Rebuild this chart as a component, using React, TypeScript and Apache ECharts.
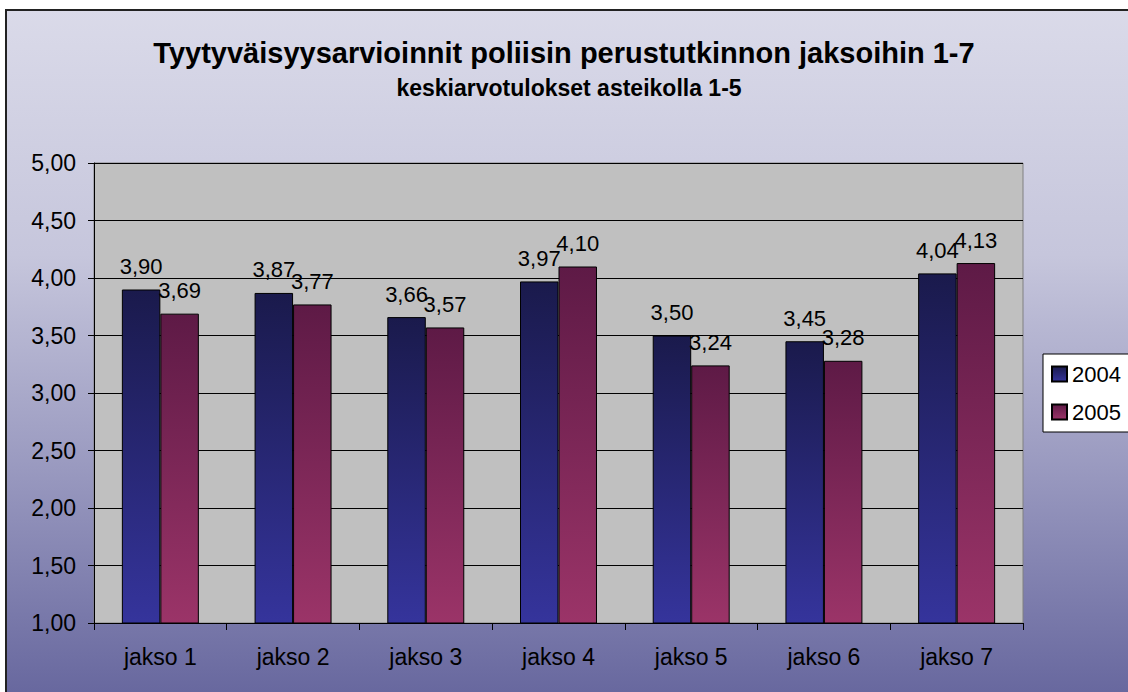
import React, { useEffect, useRef } from "react";
import * as echarts from "echarts";

const categories = ["jakso 1", "jakso 2", "jakso 3", "jakso 4", "jakso 5", "jakso 6", "jakso 7"];
const values2004 = [3.9, 3.87, 3.66, 3.97, 3.5, 3.45, 4.04];
const values2005 = [3.69, 3.77, 3.57, 4.1, 3.24, 3.28, 4.13];
const seriesNames = ["2004", "2005"];
const titleText = "Tyytyväisyysarvioinnit poliisin perustutkinnon jaksoihin 1-7";
const subtitleText = "keskiarvotulokset asteikolla 1-5";

const FONT = "'Liberation Sans', Arial, sans-serif";
const fmt = (v: number) => v.toFixed(2).replace(".", ",");

export default function App() {
  const ref = useRef<HTMLDivElement>(null);
  useEffect(() => {
    document.body.style.margin = "0";
    const chart = echarts.init(ref.current!, undefined, { renderer: "svg" });
    const grad2004 = new echarts.graphic.LinearGradient(0, 0, 0, 1, [
      { offset: 0, color: "#1a1a4c" },
      { offset: 1, color: "#35349c" },
    ]);
    const grad2005 = new echarts.graphic.LinearGradient(0, 0, 0, 1, [
      { offset: 0, color: "#5e1a46" },
      { offset: 1, color: "#9b3468" },
    ]);
    const bg = new echarts.graphic.LinearGradient(0, 0, 0, 1, [
      { offset: 0, color: "#dadae9" },
      { offset: 0.35, color: "#c6c6dc" },
      { offset: 0.65, color: "#9a9ac0" },
      { offset: 1, color: "#64649c" },
    ]);
    const labelCfg = {
      show: true,
      position: "top",
      distance: 12,
      fontFamily: FONT,
      fontSize: 22,
      color: "#000",
      formatter: (p: any) => fmt(p.value),
    };
    chart.setOption({
      animation: false,
      backgroundColor: "#ffffff",
      graphic: [
        {
          type: "rect",
          z: -10,
          silent: true,
          shape: { x: 6, y: 10, width: 1140, height: 700 },
          style: { fill: bg, stroke: "#222222", lineWidth: 2 },
        },
      ],
      title: [
        {
          text: titleText,
          left: 559,
          top: 33,
          textAlign: "center",
          textStyle: { fontFamily: FONT, fontSize: 29, fontWeight: "bold", color: "#000" },
        },
        {
          text: subtitleText,
          left: 564,
          top: 71,
          textAlign: "center",
          textStyle: { fontFamily: FONT, fontSize: 23, fontWeight: "bold", color: "#000" },
        },
      ],
      legend: {
        orient: "vertical",
        left: 1043,
        top: 354,
        padding: [9, 60, 9, 8],
        itemGap: 16,
        itemWidth: 15,
        itemHeight: 15,
        backgroundColor: "#ffffff",
        borderColor: "#000000",
        borderWidth: 1,
        borderRadius: 0,
        icon: "rect",
        textStyle: { fontFamily: FONT, fontSize: 22, color: "#000" },
        data: seriesNames,
      },
      grid: {
        left: 94,
        top: 163,
        right: 1128 - 1023,
        bottom: 692 - 623,
        show: true,
        backgroundColor: "#c0c0c0",
        borderColor: "#808080",
        borderWidth: 1,
      },
      xAxis: {
        type: "category",
        data: categories,
        axisLine: { lineStyle: { color: "#000", width: 1 } },
        axisTick: { show: true, length: 7, lineStyle: { color: "#000" } },
        axisLabel: { fontFamily: FONT, fontSize: 23, color: "#000", margin: 22 },
      },
      yAxis: {
        type: "value",
        min: 1,
        max: 5,
        interval: 0.5,
        axisLine: { show: true, lineStyle: { color: "#000", width: 1 } },
        axisTick: { show: true, length: 6, lineStyle: { color: "#000" } },
        splitLine: { lineStyle: { color: "#000", width: 1 } },
        axisLabel: {
          fontFamily: FONT,
          fontSize: 23,
          color: "#000",
          margin: 18,
          formatter: (v: number) => fmt(v),
        },
      },
      series: [
        {
          name: seriesNames[0],
          type: "bar",
          data: values2004,
          barWidth: "29%",
          barGap: "0%",
          itemStyle: { color: grad2004, borderColor: "#000", borderWidth: 1 },
          label: labelCfg,
        },
        {
          name: seriesNames[1],
          type: "bar",
          data: values2005,
          barWidth: "29%",
          barGap: "0%",
          itemStyle: { color: grad2005, borderColor: "#000", borderWidth: 1 },
          label: labelCfg,
        },
      ],
    });
    return () => chart.dispose();
  }, []);
  return <div ref={ref} style={{ position: "absolute", left: 0, top: 0, width: 1128, height: 692 }} />;
}
